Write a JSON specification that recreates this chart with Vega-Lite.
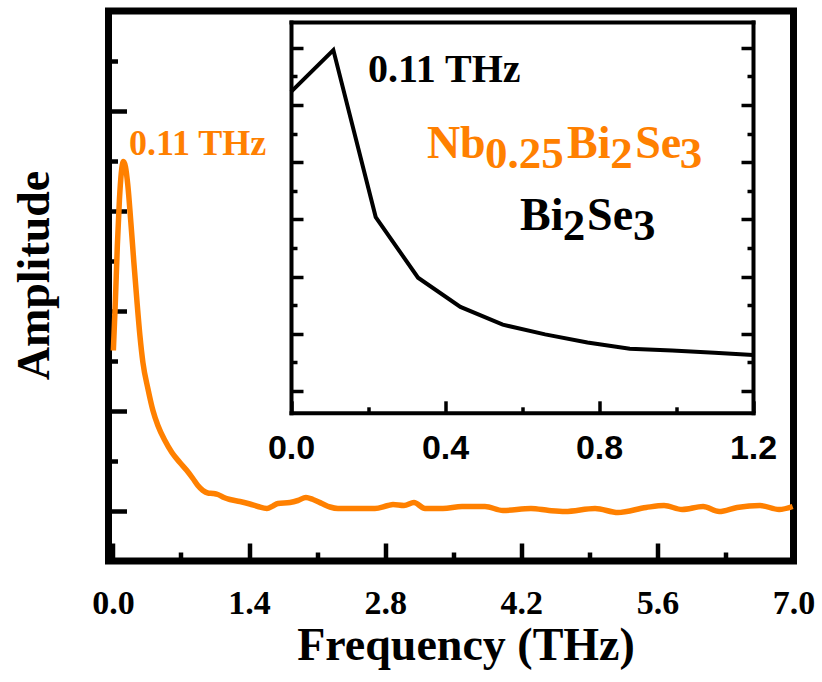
{
  "$schema": "https://vega.github.io/schema/vega-lite/v6.json",
  "width": 685,
  "height": 550,
  "autosize": {"type": "none"},
  "padding": {"left": 108.5, "top": 11, "right": 28.5, "bottom": 121},
  "background": "white",
  "config": {
    "view": {"stroke": "black", "strokeWidth": 7},
    "axis": {"grid": false, "domainColor": "black", "tickColor": "black", "labelColor": "black", "titleColor": "black", "domainCap": "square", "labelFlush": false, "labelOverlap": false}
  },
  "datasets": {
    "nb": [
      {"f": 0.005, "a": 4.21}, {"f": 0.026, "a": 5.21}, {"f": 0.046, "a": 6.31}, {"f": 0.067, "a": 7.21},
      {"f": 0.087, "a": 7.77}, {"f": 0.108, "a": 7.99}, {"f": 0.129, "a": 7.89}, {"f": 0.154, "a": 7.51},
      {"f": 0.185, "a": 6.77}, {"f": 0.216, "a": 5.97}, {"f": 0.247, "a": 5.21}, {"f": 0.278, "a": 4.51},
      {"f": 0.309, "a": 3.97}, {"f": 0.36, "a": 3.45}, {"f": 0.412, "a": 3.01}, {"f": 0.463, "a": 2.71},
      {"f": 0.535, "a": 2.41}, {"f": 0.607, "a": 2.17}, {"f": 0.689, "a": 1.97}, {"f": 0.761, "a": 1.81},
      {"f": 0.823, "a": 1.65}, {"f": 0.874, "a": 1.51}, {"f": 0.926, "a": 1.41}, {"f": 0.977, "a": 1.36},
      {"f": 1.029, "a": 1.35}, {"f": 1.08, "a": 1.33}, {"f": 1.142, "a": 1.27}, {"f": 1.204, "a": 1.23},
      {"f": 1.307, "a": 1.19}, {"f": 1.409, "a": 1.14}, {"f": 1.492, "a": 1.09}, {"f": 1.584, "a": 1.05},
      {"f": 1.646, "a": 1.1}, {"f": 1.698, "a": 1.15}, {"f": 1.821, "a": 1.17}, {"f": 1.903, "a": 1.21},
      {"f": 1.986, "a": 1.27}, {"f": 2.058, "a": 1.23}, {"f": 2.15, "a": 1.15}, {"f": 2.233, "a": 1.08},
      {"f": 2.315, "a": 1.05}, {"f": 2.5, "a": 1.05}, {"f": 2.695, "a": 1.05}, {"f": 2.829, "a": 1.11},
      {"f": 2.881, "a": 1.13}, {"f": 2.994, "a": 1.11}, {"f": 3.097, "a": 1.17}, {"f": 3.21, "a": 1.05},
      {"f": 3.395, "a": 1.05}, {"f": 3.591, "a": 1.09}, {"f": 3.827, "a": 1.09}, {"f": 4.012, "a": 1.01},
      {"f": 4.3, "a": 1.05}, {"f": 4.486, "a": 1.01}, {"f": 4.65, "a": 0.99}, {"f": 4.959, "a": 1.05},
      {"f": 5.195, "a": 0.97}, {"f": 5.484, "a": 1.07}, {"f": 5.669, "a": 1.11}, {"f": 5.854, "a": 1.03},
      {"f": 6.07, "a": 1.09}, {"f": 6.235, "a": 0.99}, {"f": 6.42, "a": 1.07}, {"f": 6.656, "a": 1.11},
      {"f": 6.852, "a": 1.03}, {"f": 6.991, "a": 1.09}
    ],
    "bi": [
      {"f": 0, "v": 6.23}, {"f": 0.11, "v": 6.96}, {"f": 0.22, "v": 4.04}, {"f": 0.33, "v": 2.98},
      {"f": 0.44, "v": 2.47}, {"f": 0.55, "v": 2.16}, {"f": 0.66, "v": 1.99}, {"f": 0.77, "v": 1.85},
      {"f": 0.88, "v": 1.74}, {"f": 0.99, "v": 1.71}, {"f": 1.1, "v": 1.67}, {"f": 1.2, "v": 1.63}
    ],
    "insetText": [
      {"t": "Nb", "f": 0.353, "v": 5.07, "part": "main", "series": "Nb0.25Bi2Se3"},
      {"t": "0.25", "f": 0.504, "v": 4.9, "part": "sub", "series": "Nb0.25Bi2Se3"},
      {"t": "Bi", "f": 0.717, "v": 5.07, "part": "main", "series": "Nb0.25Bi2Se3"},
      {"t": "2", "f": 0.829, "v": 4.9, "part": "sub", "series": "Nb0.25Bi2Se3"},
      {"t": "Se", "f": 0.894, "v": 5.07, "part": "main", "series": "Nb0.25Bi2Se3"},
      {"t": "3", "f": 1.01, "v": 4.9, "part": "sub", "series": "Nb0.25Bi2Se3"},
      {"t": "Bi", "f": 0.595, "v": 3.815, "part": "main", "series": "Bi2Se3"},
      {"t": "2", "f": 0.706, "v": 3.64, "part": "sub", "series": "Bi2Se3"},
      {"t": "Se", "f": 0.769, "v": 3.815, "part": "main", "series": "Bi2Se3"},
      {"t": "3", "f": 0.888, "v": 3.64, "part": "sub", "series": "Bi2Se3"},
      {"t": "0.11 THz", "f": 0.2, "v": 6.4, "part": "peak", "series": "Bi2Se3"}
    ]
  },
  "layer": [
    {
      "layer": [
        {
          "data": {"name": "nb"},
          "mark": {"type": "line", "color": "#FF8000", "strokeWidth": 5.5, "interpolate": "monotone"},
          "encoding": {
            "x": {"field": "f", "type": "quantitative", "scale": {"domain": [-0.045, 7], "nice": false, "zero": false},
              "axis": {"orient": "bottom", "values": [0, 1.4, 2.8, 4.2, 5.6, 7], "format": ".1f", "domain": false,
                "tickSize": -18, "tickWidth": 4.5, "labelFont": "Liberation Serif", "labelFontWeight": "bold", "labelFontSize": 34,
                "labelBaseline": "alphabetic", "labelPadding": 70,
                "title": "Frequency (THz)", "titleFont": "Liberation Serif", "titleFontWeight": "bold", "titleFontSize": 46,
                "titleBaseline": "alphabetic", "titleAlign": "center", "titleX": 357, "titleY": 98}},
            "y": {"field": "a", "type": "quantitative", "scale": {"domain": [0, 11], "nice": false, "zero": false},
              "axis": {"orient": "left", "values": [1, 3, 5, 7, 9], "domain": false, "labels": false,
                "tickSize": -18, "tickWidth": 4.5,
                "title": "Amplitude", "titleFont": "Liberation Serif", "titleFontWeight": "bold", "titleFontSize": 46,
                "titleBaseline": "alphabetic", "titleAlign": "center", "titleAngle": 270, "titleX": -60.5, "titleY": 264}}
          }
        },
        {
          "data": {"name": "nb"},
          "mark": {"type": "point", "opacity": 0},
          "encoding": {
            "x": {"field": "f", "type": "quantitative",
              "axis": {"orient": "bottom", "values": [0.7, 2.1, 3.5, 4.9, 6.3], "domain": false, "labels": false, "tickSize": -9, "tickWidth": 4.5, "title": null}},
            "y": {"field": "a", "type": "quantitative",
              "axis": {"orient": "left", "values": [2, 4, 6, 8, 10], "domain": false, "labels": false, "tickSize": -9, "tickWidth": 4.5, "title": null}}
          }
        },
        {
          "data": {"values": [{"t": "0.11 THz", "f": 0.165, "a": 8.13}]},
          "mark": {"type": "text", "color": "#FF8000", "font": "Liberation Serif", "fontWeight": "bold", "fontSize": 36, "align": "left", "baseline": "alphabetic"},
          "encoding": {
            "x": {"field": "f", "type": "quantitative", "axis": null},
            "y": {"field": "a", "type": "quantitative", "axis": null},
            "text": {"field": "t"}
          }
        }
      ],
      "resolve": {"axis": {"x": "independent", "y": "independent"}}
    },
    {
      "layer": [
        {
          "data": {"name": "bi"},
          "mark": {"type": "line", "color": "black", "strokeWidth": 4},
          "encoding": {
            "x": {"field": "f", "type": "quantitative", "scale": {"domain": [0, 1.2], "range": [182.5, 644.5], "nice": false, "zero": false},
              "axis": {"orient": "bottom", "offset": -148.2, "values": [0, 0.4, 0.8, 1.2], "format": ".1f", "domainWidth": 4,
                "tickSize": -12, "tickWidth": 3.5, "labelFont": "Liberation Sans", "labelFontWeight": "bold", "labelFontSize": 34,
                "labelBaseline": "alphabetic", "labelPadding": 57.2, "title": null}},
            "y": {"field": "v", "type": "quantitative", "scale": {"domain": [0.62, 7.45], "range": [401.8, 11], "nice": false, "zero": false},
              "axis": {"orient": "left", "offset": -182.5, "values": [1, 2, 3, 4, 5, 6, 7], "domainWidth": 4, "labels": false,
                "tickSize": -12, "tickWidth": 3.5, "title": null}}
          }
        },
        {
          "data": {"name": "bi"},
          "mark": {"type": "point", "opacity": 0},
          "encoding": {
            "x": {"field": "f", "type": "quantitative",
              "axis": {"orient": "bottom", "offset": -148.2, "values": [0.2, 0.6, 1.0], "domain": false, "labels": false, "tickSize": -6, "tickWidth": 3.5, "title": null}},
            "y": {"field": "v", "type": "quantitative",
              "axis": {"orient": "left", "offset": -182.5, "values": [1.5, 2.5, 3.5, 4.5, 5.5, 6.5], "domain": false, "labels": false, "tickSize": -6, "tickWidth": 3.5, "title": null}}
          }
        },
        {
          "data": {"name": "bi"},
          "mark": {"type": "point", "opacity": 0},
          "encoding": {
            "x": {"field": "f", "type": "quantitative",
              "axis": {"orient": "top", "offset": -11, "ticks": false, "labels": false, "domainWidth": 4, "title": null}},
            "y": {"field": "v", "type": "quantitative",
              "axis": {"orient": "right", "offset": -40.5, "values": [1, 2, 3, 4, 5, 6, 7], "domainWidth": 4, "labels": false, "tickSize": -12, "tickWidth": 3.5, "title": null}}
          }
        },
        {
          "data": {"name": "bi"},
          "mark": {"type": "point", "opacity": 0},
          "encoding": {
            "x": {"field": "f", "type": "quantitative", "axis": null},
            "y": {"field": "v", "type": "quantitative",
              "axis": {"orient": "right", "offset": -40.5, "values": [1.5, 2.5, 3.5, 4.5, 5.5, 6.5], "domain": false, "labels": false, "tickSize": -6, "tickWidth": 3.5, "title": null}}
          }
        },
        {
          "data": {"name": "insetText"},
          "transform": [{"filter": "datum.part === 'main'"}],
          "mark": {"type": "text", "font": "Liberation Serif", "fontWeight": "bold", "fontSize": 46, "align": "left", "baseline": "alphabetic"},
          "encoding": {
            "x": {"field": "f", "type": "quantitative", "axis": null},
            "y": {"field": "v", "type": "quantitative", "axis": null},
            "text": {"field": "t"},
            "color": {"field": "series", "type": "nominal", "scale": {"domain": ["Nb0.25Bi2Se3", "Bi2Se3"], "range": ["#FF8000", "black"]}, "legend": null}
          }
        },
        {
          "data": {"name": "insetText"},
          "transform": [{"filter": "datum.part === 'sub'"}],
          "mark": {"type": "text", "font": "Liberation Serif", "fontWeight": "bold", "fontSize": 45, "align": "left", "baseline": "alphabetic"},
          "encoding": {
            "x": {"field": "f", "type": "quantitative", "axis": null},
            "y": {"field": "v", "type": "quantitative", "axis": null},
            "text": {"field": "t"},
            "color": {"field": "series", "type": "nominal", "legend": null}
          }
        },
        {
          "data": {"name": "insetText"},
          "transform": [{"filter": "datum.part === 'peak'"}],
          "mark": {"type": "text", "font": "Liberation Serif", "fontWeight": "bold", "fontSize": 40, "align": "left", "baseline": "alphabetic"},
          "encoding": {
            "x": {"field": "f", "type": "quantitative", "axis": null},
            "y": {"field": "v", "type": "quantitative", "axis": null},
            "text": {"field": "t"},
            "color": {"field": "series", "type": "nominal", "legend": null}
          }
        }
      ],
      "resolve": {"axis": {"x": "independent", "y": "independent"}}
    }
  ],
  "resolve": {"scale": {"x": "independent", "y": "independent"}}
}
